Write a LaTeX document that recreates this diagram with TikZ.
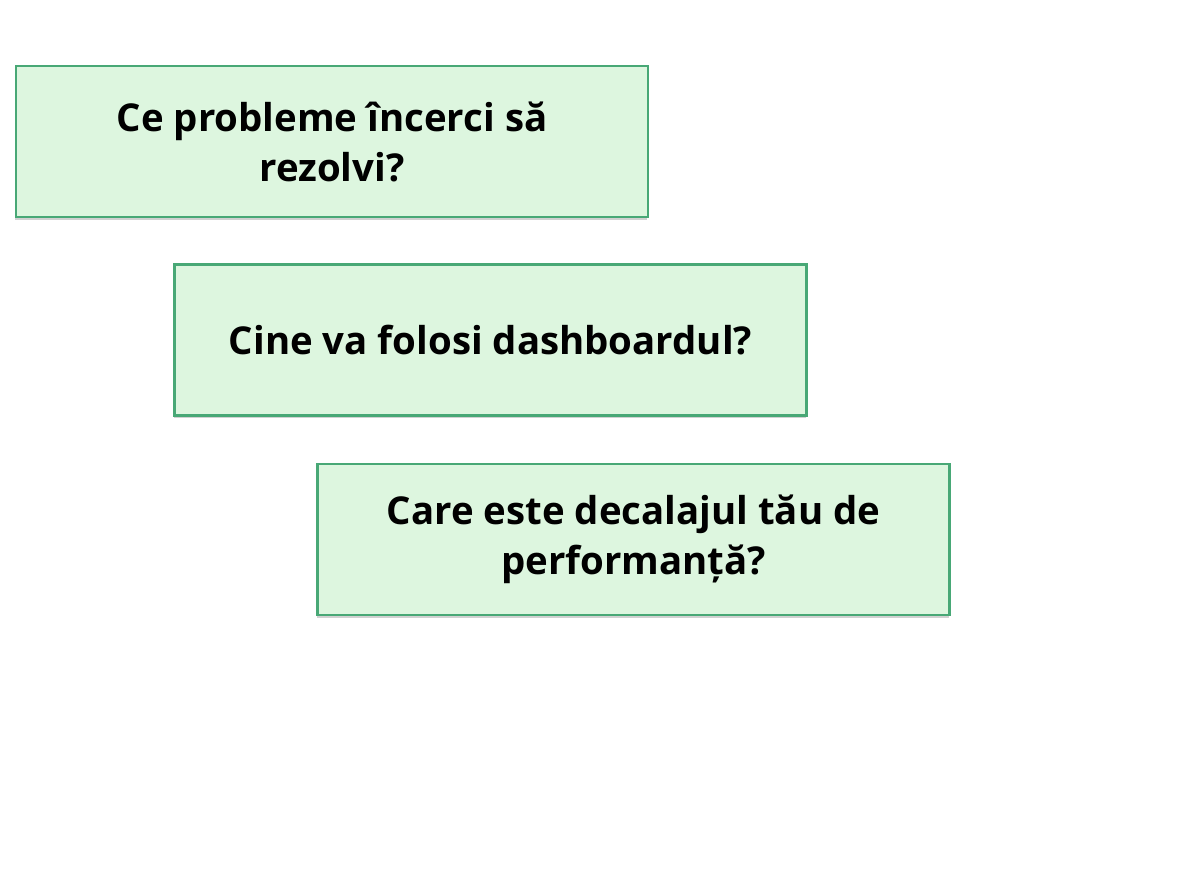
\documentclass[tikz,border=0pt]{standalone}
\usepackage{fontspec}
\setmainfont{Open Sans}
\usepackage{xcolor}
\definecolor{boxfill}{RGB}{221,246,223}
\definecolor{boxline}{RGB}{72,168,118}
\usepackage{tikz}
\usetikzlibrary{positioning}
\usetikzlibrary{shadows}

\begin{document}
\begin{tikzpicture}[x=0.025cm,y=-0.025cm]
\useasboundingbox (0,0) rectangle (1193,896);
%question boxes
\tikzset{qbox/.style={draw=boxline,line width=2pt,fill=boxfill,rectangle,
  minimum width=15.8cm,minimum height=3.775cm,align=center,
  font=\fontsize{27.3}{35.5}\selectfont\bfseries,
  drop shadow={shadow xshift=-0.5pt,shadow yshift=-2pt,opacity=0.3,fill=black!60}}}
\node (q1) at (332,141.5) [qbox] {Ce probleme încerci să\\rezolvi?};
\node (q2) at (490.5,340) [qbox] {Cine va folosi dashboardul?};
\node (q3) at (633.5,539.5) [qbox] {Care este decalajul tău de\\performanță?};
\end{tikzpicture}
\end{document}
